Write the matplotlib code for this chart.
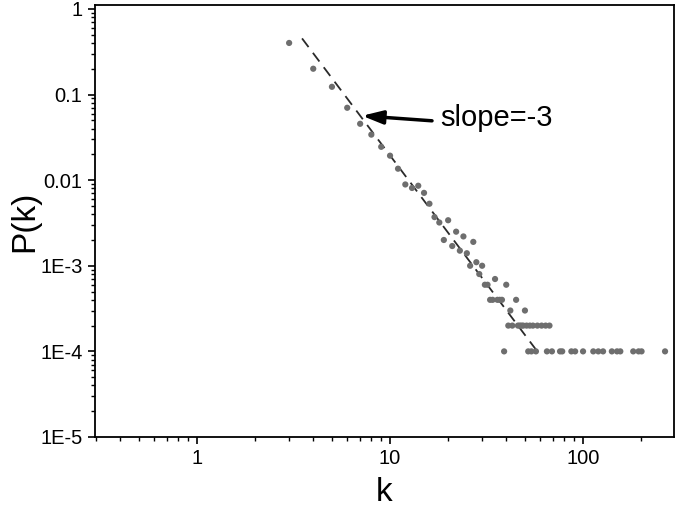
import matplotlib
matplotlib.use('Agg')
import matplotlib.pyplot as plt
from matplotlib.ticker import FixedLocator, FixedFormatter, LogLocator, NullFormatter

plt.rcParams['font.family'] = ['Liberation Sans', 'DejaVu Sans']

# degree distribution
k = [3, 4, 5, 6, 7, 8, 9, 10, 11, 12, 13, 14, 15, 16, 17, 18, 19, 20, 21, 22,
     23, 24, 25, 26, 27, 28, 29, 30, 31, 32, 33, 34, 35, 36, 37, 38, 40, 42, 45, 50,
     41, 43, 46, 47, 48, 49, 51, 53, 55, 58, 61, 64, 67,
     39, 52, 54, 57, 65, 69, 76, 78, 87, 91, 100, 113, 120, 127, 141, 150, 156,
     182, 194, 201, 266]
pk = [0.40, 0.20, 0.123, 0.070, 0.0455, 0.034, 0.0245, 0.0193, 0.0136, 0.0089,
      0.0081, 0.0086, 0.0071, 0.0053, 0.0037, 0.0032, 0.0020, 0.0034, 0.0017, 0.0025,
      0.0015, 0.0022, 0.0014, 0.0010, 0.0019, 0.0011, 0.0008, 0.0010, 0.0006, 0.0006,
      0.0004, 0.0004, 0.0007, 0.0004, 0.0004, 0.0004, 0.0006, 0.0003, 0.0004, 0.0003,
      2e-4, 2e-4, 2e-4, 2e-4, 2e-4, 2e-4, 2e-4, 2e-4, 2e-4, 2e-4, 2e-4, 2e-4, 2e-4,
      1e-4, 1e-4, 1e-4, 1e-4, 1e-4, 1e-4, 1e-4, 1e-4, 1e-4, 1e-4, 1e-4, 1e-4, 1e-4,
      1e-4, 1e-4, 1e-4, 1e-4, 1e-4, 1e-4, 1e-4, 1e-4]

# power-law guide line with slope -3
fit_k = [3.5, 57]
fit_p = [0.452, 1.05e-4]

xticks = [1, 10, 100]
xtick_labels = ['1', '10', '100']
yticks = [1e-5, 1e-4, 1e-3, 1e-2, 1e-1, 1]
ytick_labels = ['1E-5', '1E-4', '1E-3', '0.01', '0.1', '1']

fig = plt.figure(figsize=(6.76, 5.07), dpi=100)
ax = fig.add_axes([95 / 676, 1 - 437 / 507, 579 / 676, 432 / 507])

ax.scatter(k, pk, s=20, color='#6e6e6e', edgecolors='none', zorder=3)
ax.plot(fit_k, fit_p, color='#2a2a2a', lw=1.3, dashes=(6, 4), zorder=2)

ax.annotate('', xy=(7.16, 0.0564), xytext=(16.5, 0.0493),
            arrowprops=dict(arrowstyle='-|>,head_length=0.62,head_width=0.2',
                            mutation_scale=20, lw=2.5, color='black',
                            shrinkA=0, shrinkB=0))
ax.text(18.2, 0.0535, 'slope=-3', fontsize=21, va='center', ha='left')

ax.set_xscale('log')
ax.set_yscale('log')
ax.set_xlim(0.296, 296)
ax.set_ylim(1e-5, 1.11)

ax.xaxis.set_major_locator(FixedLocator(xticks))
ax.xaxis.set_major_formatter(FixedFormatter(xtick_labels))
ax.yaxis.set_major_locator(FixedLocator(yticks))
ax.yaxis.set_major_formatter(FixedFormatter(ytick_labels))
ax.xaxis.set_minor_locator(LogLocator(base=10, subs=range(2, 10), numticks=20))
ax.yaxis.set_minor_locator(LogLocator(base=10, subs=range(2, 10), numticks=20))
ax.xaxis.set_minor_formatter(NullFormatter())
ax.yaxis.set_minor_formatter(NullFormatter())

ax.tick_params(which='major', direction='out', length=5, width=1.2, labelsize=14.5, pad=4)
ax.tick_params(which='minor', direction='out', length=3, width=1.0)
ax.tick_params(top=False, right=False, which='both')
for sp in ax.spines.values():
    sp.set_linewidth(1.3)

ax.set_xlabel('k', fontsize=24, labelpad=6)
ax.set_ylabel('P(k)', fontsize=24, labelpad=0)

fig.savefig('out.png', dpi=100)
